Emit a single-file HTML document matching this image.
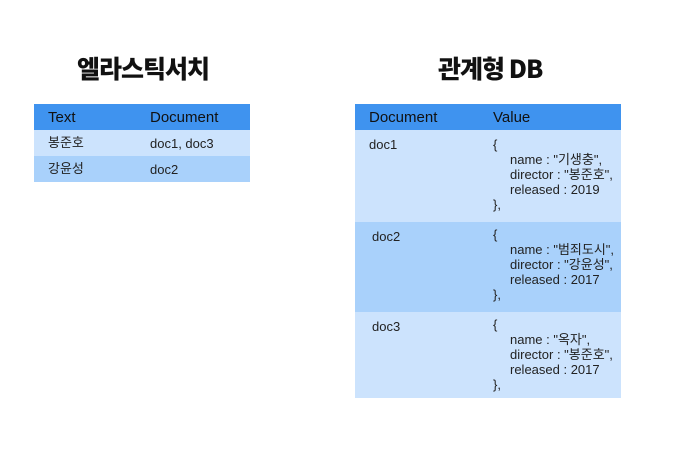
<!DOCTYPE html><html><head><meta charset="utf-8"><style>
body{margin:0;width:675px;height:459px;background:#fff;font-family:"Liberation Sans","Noto Sans CJK KR",sans-serif;position:relative;overflow:hidden}
.t{position:absolute;font-weight:900;font-size:25px;color:#111;font-family:"Noto Sans CJK KR",sans-serif;letter-spacing:-1px}
.b{position:absolute}
.tx{position:absolute;font-size:13px;color:#222;line-height:13px}
.h{font-size:15px;color:#111;line-height:15px}
.v{position:absolute;font-size:13px;color:#222;line-height:15px}
.v div{padding-left:17px}
</style></head><body>
<div class="t" style="left:77px;top:50px">엘라스틱서치</div>
<div class="t" style="left:438px;top:50px">관계형 DB</div>

<div class="b" style="left:34px;top:104px;width:216px;height:26px;background:#3f93ef"></div>
<div class="b" style="left:34px;top:130px;width:216px;height:26px;background:#cce3fd"></div>
<div class="b" style="left:34px;top:156px;width:216px;height:26px;background:#a9d1fb"></div>
<div class="tx h" style="left:48px;top:110px">Text</div>
<div class="tx h" style="left:150px;top:110px">Document</div>
<div class="tx" style="left:48px;top:136px">봉준호</div>
<div class="tx" style="left:150px;top:137px">doc1, doc3</div>
<div class="tx" style="left:48px;top:162px">강윤성</div>
<div class="tx" style="left:150px;top:163px">doc2</div>

<div class="b" style="left:355px;top:104px;width:266px;height:26px;background:#3f93ef"></div>
<div class="b" style="left:355px;top:130px;width:266px;height:92px;background:#cce3fd"></div>
<div class="b" style="left:355px;top:222px;width:266px;height:90px;background:#a9d1fb"></div>
<div class="b" style="left:355px;top:312px;width:266px;height:86px;background:#cce3fd"></div>
<div class="tx h" style="left:369px;top:110px">Document</div>
<div class="tx h" style="left:493px;top:110px">Value</div>
<div class="tx" style="left:369px;top:138px">doc1</div>
<div class="tx" style="left:372px;top:230px">doc2</div>
<div class="tx" style="left:372px;top:320px">doc3</div>
<div class="v" style="left:493px;top:137px">{<div>name : "기생충",</div><div>director : "봉준호",</div><div>released : 2019</div>},</div>
<div class="v" style="left:493px;top:227px">{<div>name : "범죄도시",</div><div>director : "강윤성",</div><div>released : 2017</div>},</div>
<div class="v" style="left:493px;top:317px">{<div>name : "옥자",</div><div>director : "봉준호",</div><div>released : 2017</div>},</div>
</body></html>
